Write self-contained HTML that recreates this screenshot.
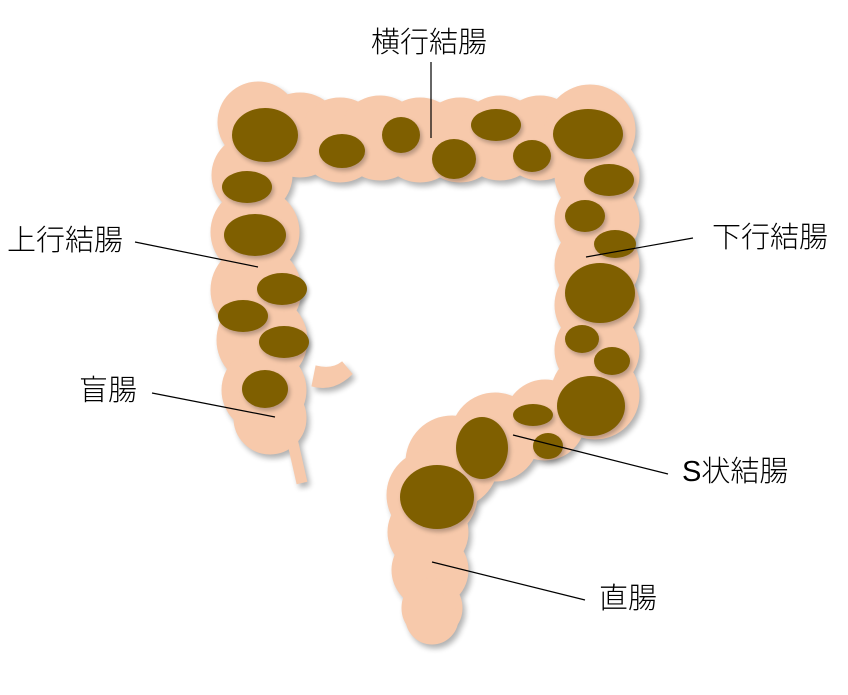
<!DOCTYPE html>
<html><head><meta charset="utf-8"><style>
html,body{margin:0;padding:0;background:#fff;}
svg{display:block}
text{font-family:"Liberation Sans","Noto Sans CJK JP",sans-serif;font-size:29px;font-weight:300;fill:#000}
</style></head><body>
<svg width="848" height="695" viewBox="0 0 848 695" xmlns="http://www.w3.org/2000/svg">
<defs>
<filter id="bl" x="-20%" y="-20%" width="140%" height="140%">
<feGaussianBlur stdDeviation="3"/>
</filter>
<filter id="bl2" x="-20%" y="-20%" width="140%" height="140%">
<feGaussianBlur stdDeviation="2"/>
</filter>
<g id="body">
<line x1="290" y1="430" x2="302" y2="483" stroke-width="11"/>
<path d="M316 366 Q332 370 342 362 L352 374 Q334 392 312 386 Z"/>
<circle cx="258" cy="122" r="40"/>
<circle cx="252" cy="175" r="40"/>
<circle cx="255" cy="232" r="44"/>
<circle cx="256" cy="290" r="45"/>
<circle cx="262" cy="340" r="45"/>
<circle cx="264" cy="390" r="42"/>
<circle cx="270" cy="418" r="36"/>
<circle cx="300" cy="135" r="42"/>
<circle cx="340" cy="140" r="42"/>
<circle cx="380" cy="138" r="42"/>
<circle cx="420" cy="140" r="42"/>
<circle cx="460" cy="140" r="42"/>
<circle cx="500" cy="138" r="42"/>
<circle cx="540" cy="138" r="42"/>
<circle cx="590" cy="130" r="45"/>
<circle cx="597" cy="175" r="42"/>
<circle cx="597" cy="220" r="42"/>
<circle cx="597" cy="265" r="42"/>
<circle cx="597" cy="305" r="42"/>
<circle cx="597" cy="350" r="42"/>
<circle cx="595" cy="395" r="44"/>
<circle cx="545" cy="420" r="40"/>
<circle cx="495" cy="437" r="44"/>
<circle cx="452" cy="462" r="46"/>
<circle cx="432" cy="495" r="45"/>
<circle cx="428" cy="532" r="40"/>
<circle cx="430" cy="570" r="38"/>
<circle cx="432" cy="608" r="30"/>
<circle cx="432" cy="618" r="26"/>
</g>
<g id="dots">
<ellipse cx="265" cy="135" rx="33" ry="27"/>
<ellipse cx="342" cy="151" rx="23" ry="17"/>
<ellipse cx="401" cy="135" rx="19" ry="18"/>
<ellipse cx="454" cy="159" rx="22" ry="20"/>
<ellipse cx="496" cy="125" rx="25" ry="16"/>
<ellipse cx="532" cy="156" rx="19" ry="16"/>
<ellipse cx="588" cy="134" rx="35" ry="25"/>
<ellipse cx="609" cy="180" rx="25" ry="16"/>
<ellipse cx="585" cy="216" rx="20" ry="16"/>
<ellipse cx="615" cy="244" rx="21" ry="14"/>
<ellipse cx="600" cy="293" rx="35" ry="30"/>
<ellipse cx="582" cy="339" rx="17" ry="14"/>
<ellipse cx="612" cy="361" rx="18" ry="14"/>
<ellipse cx="591" cy="406" rx="34" ry="30"/>
<ellipse cx="533" cy="415" rx="20" ry="11"/>
<ellipse cx="548" cy="446" rx="15" ry="13"/>
<ellipse cx="482" cy="448" rx="26" ry="31"/>
<ellipse cx="437" cy="497" rx="37" ry="32"/>
<ellipse cx="247" cy="187" rx="25" ry="16"/>
<ellipse cx="255" cy="235" rx="31" ry="21"/>
<ellipse cx="282" cy="289" rx="25" ry="16"/>
<ellipse cx="243" cy="316" rx="25" ry="16"/>
<ellipse cx="284" cy="342" rx="25" ry="16"/>
<ellipse cx="265" cy="389" rx="23" ry="19"/>
</g>
</defs>
<g filter="url(#bl)" opacity="0.3">
<use href="#body" fill="#000" stroke="#000" transform="translate(3,4)"/>
</g>
<use href="#body" fill="#f7c9ab" stroke="#f7c9ab"/>
<g filter="url(#bl2)" opacity="0.25">
<use href="#dots" fill="#000" transform="translate(2,3)"/>
</g>
<use href="#dots" fill="#7f5f00"/>
<g stroke="#000" stroke-width="1.2">
<line x1="431" y1="62" x2="431" y2="138"/>
<line x1="135" y1="242" x2="258" y2="267"/>
<line x1="152" y1="393" x2="275" y2="417"/>
<line x1="693" y1="238" x2="586" y2="257"/>
<line x1="668" y1="474" x2="513" y2="435"/>
<line x1="585" y1="600" x2="432" y2="562"/>
</g>
<text x="371" y="52">横行結腸</text>
<text x="7" y="250">上行結腸</text>
<text x="79" y="400">盲腸</text>
<text x="712" y="247">下行結腸</text>
<text x="682" y="481">S状結腸</text>
<text x="599" y="608">直腸</text>
</svg>
</body></html>
